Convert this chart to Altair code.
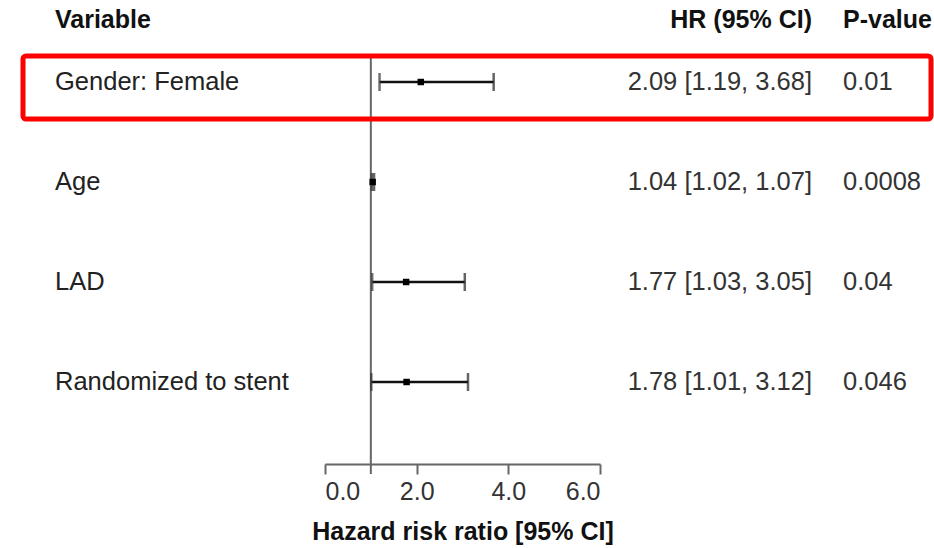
import altair as alt
import pandas as pd

# Cox model results
variables = ["Gender: Female", "Age", "LAD", "Randomized to stent"]
hr = [2.09, 1.04, 1.77, 1.78]
ci_low = [1.19, 1.02, 1.03, 1.01]
ci_high = [3.68, 1.07, 3.05, 3.12]
p_values = ["0.01", "0.0008", "0.04", "0.046"]
x_ticks = [0.0, 2.0, 4.0, 6.0]
highlighted = ["Gender: Female"]

df = pd.DataFrame({
    "variable": variables,
    "idx": list(range(len(variables))),
    "hr": hr,
    "lo": ci_low,
    "hi": ci_high,
    "p": p_values,
})
df["hr_text"] = [f"{h:.2f} [{l:.2f}, {u:.2f}]" for h, l, u in zip(hr, ci_low, ci_high)]

FONT = "Liberation Sans"
FS = 25.5

x_scale = alt.Scale(domain=[0, 6], range=[325, 600], nice=False, zero=False)
y_scale = alt.Scale(domain=[0, 3], range=[82, 382], nice=False, zero=False)

base = alt.Chart(df)
x_axis = alt.Axis(
    values=x_ticks, format=".1f", grid=False,
    domainColor="#666", domainWidth=2, tickColor="#666", tickWidth=2, tickSize=10,
    labelFont=FONT, labelFontSize=25, labelColor="#333", labelPadding=5,
    title="Hazard risk ratio [95% CI]", titleFont=FONT, titleFontSize=25,
    titleFontWeight="bold", titleColor="#111", titlePadding=15,
)

# null-effect reference line at HR = 1
ref = alt.Chart(pd.DataFrame({"ref": [1.0]})).mark_rule(color="#666", strokeWidth=2).encode(
    x=alt.X("ref:Q", scale=x_scale, axis=x_axis),
    y=alt.value(57), y2=alt.value(474),
)

ci = base.mark_rule(color="#111", strokeWidth=2.5).encode(
    x=alt.X("lo:Q", scale=x_scale),
    x2="hi:Q",
    y=alt.Y("idx:Q", scale=y_scale, axis=None),
)
cap_lo = base.mark_tick(color="#333", thickness=2.5, size=18, orient="vertical").encode(
    x=alt.X("lo:Q", scale=x_scale),
    y=alt.Y("idx:Q", scale=y_scale, axis=None),
)
cap_hi = base.mark_tick(color="#222", thickness=2.5, size=18, orient="vertical").encode(
    x=alt.X("hi:Q", scale=x_scale),
    y=alt.Y("idx:Q", scale=y_scale, axis=None),
)
pts = base.mark_square(color="#000", size=42, opacity=1).encode(
    x=alt.X("hr:Q", scale=x_scale),
    y=alt.Y("idx:Q", scale=y_scale, axis=None),
)

labels = base.mark_text(align="left", baseline="middle", font=FONT, fontSize=FS, color="#222").encode(
    x=alt.value(55), y=alt.Y("idx:Q", scale=y_scale, axis=None), text="variable:N",
)
hr_txt = base.mark_text(align="right", baseline="middle", font=FONT, fontSize=FS, color="#333").encode(
    x=alt.value(812), y=alt.Y("idx:Q", scale=y_scale, axis=None), text="hr_text:N",
)
p_txt = base.mark_text(align="left", baseline="middle", font=FONT, fontSize=FS, color="#333").encode(
    x=alt.value(843), y=alt.Y("idx:Q", scale=y_scale, axis=None), text="p:N",
)

header_style = dict(baseline="middle", font=FONT, fontSize=25, fontWeight="bold", color="#111")
h_var = alt.Chart(pd.DataFrame({"t": ["Variable"]})).mark_text(align="left", **header_style).encode(
    x=alt.value(55), y=alt.value(20), text="t:N")
h_hr = alt.Chart(pd.DataFrame({"t": ["HR (95% CI)"]})).mark_text(align="right", **header_style).encode(
    x=alt.value(812), y=alt.value(20), text="t:N")
h_p = alt.Chart(pd.DataFrame({"t": ["P-value"]})).mark_text(align="left", **header_style).encode(
    x=alt.value(843), y=alt.value(20), text="t:N")

# red highlight frame around the selected row
hl = alt.Chart(df[df["variable"].isin(highlighted)]).transform_calculate(
    top="datum.idx - 0.26", bottom="datum.idx + 0.37"
).mark_rect(fill=None, stroke="#ff0000", strokeWidth=5, cornerRadius=3).encode(
    x=alt.value(23), x2=alt.value(931),
    y=alt.Y("top:Q", scale=y_scale, axis=None), y2="bottom:Q",
)

chart = alt.layer(
    ref, ci, cap_lo, cap_hi, pts, labels, hr_txt, p_txt, h_var, h_hr, h_p, hl
).properties(
    width=934, height=464,
    autosize=alt.AutoSizeParams(type="none"),
    padding={"left": 0, "top": 0, "right": 0, "bottom": 84},
    background="white",
).configure_view(stroke=None)

chart.save("out.html", embed_options={"renderer": "svg", "actions": False})
